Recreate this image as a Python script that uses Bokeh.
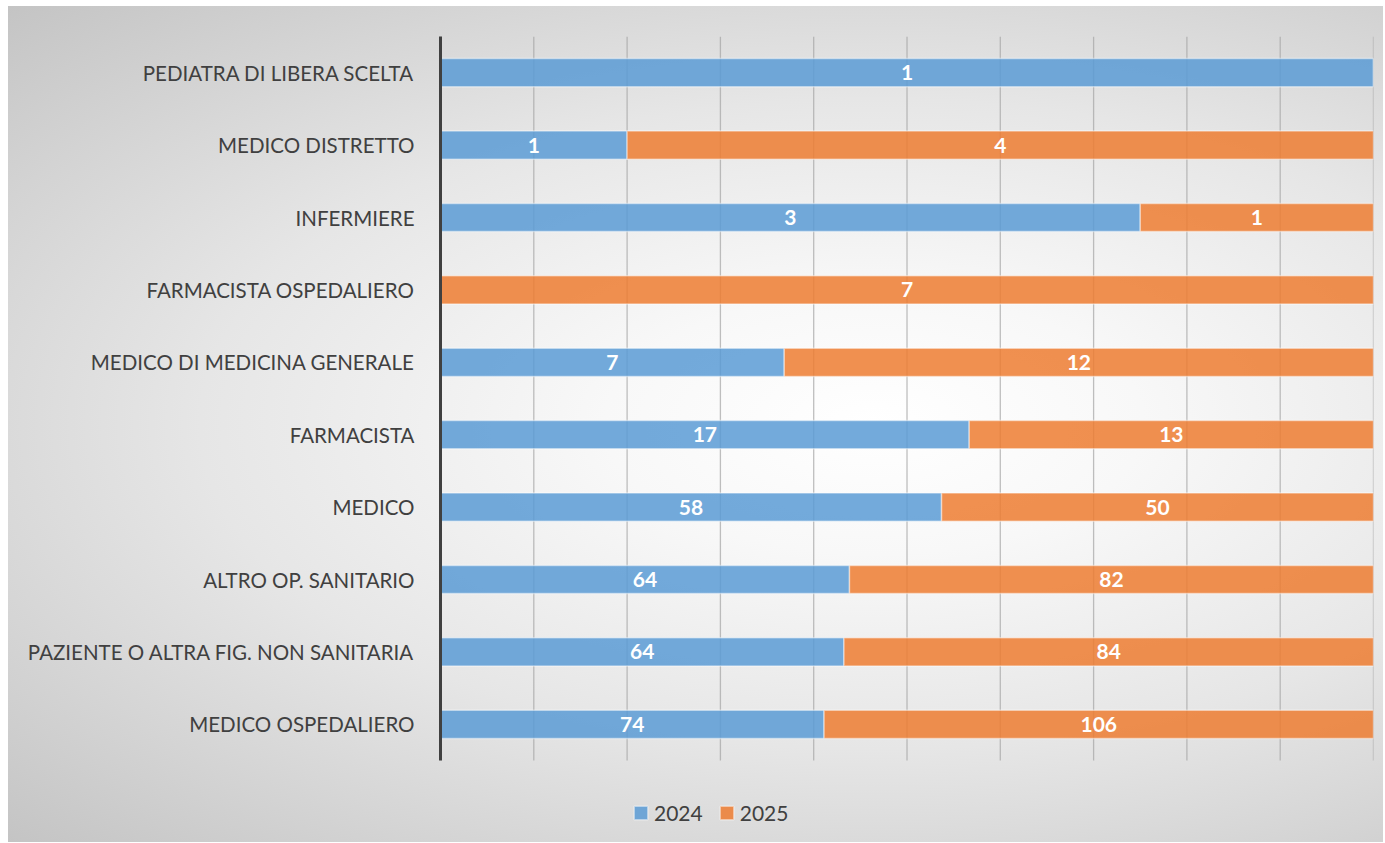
from bokeh.plotting import figure
from bokeh.models import (ColumnDataSource, FixedTicker, Legend, LegendItem, Range1d)
from bokeh.core.properties import value
from bokeh.embed import file_html
from bokeh.resources import INLINE

categories = ["PEDIATRA DI LIBERA SCELTA", "MEDICO DISTRETTO", "INFERMIERE",
              "FARMACISTA OSPEDALIERO", "MEDICO DI MEDICINA GENERALE", "FARMACISTA",
              "MEDICO", "ALTRO OP. SANITARIO", "PAZIENTE O ALTRA FIG. NON SANITARIA",
              "MEDICO OSPEDALIERO"]
v2024 = [1, 1, 3, 0, 7, 17, 58, 64, 64, 74]
v2025 = [0, 4, 1, 7, 12, 13, 50, 82, 84, 106]
series = ["2024", "2025"]
x_ticks = [0, 10, 20, 30, 40, 50, 60, 70, 80, 90, 100]

BLUE = "#5b9bd5"
ORANGE = "#ed7d31"
FONT = "Lato"

n = len(categories)
ypos = [n - 1 - i for i in range(n)]          # first category on top
tot = [a + b for a, b in zip(v2024, v2025)]
p24 = [a / t * 100 for a, t in zip(v2024, tot)]

src = ColumnDataSource(dict(y=ypos, a=v2024, b=v2025, p24=p24,
                            zero=[0] * n, full=[100] * n))

lab = dict(x=[], y=[], t=[])
for yy, a, b, pa in zip(ypos, v2024, v2025, p24):
    if a > 0:
        lab["x"].append(pa / 2); lab["y"].append(yy); lab["t"].append(str(a))
    if b > 0:
        lab["x"].append((pa + 100) / 2); lab["y"].append(yy); lab["t"].append(str(b))
lab_src = ColumnDataSource(lab)

CAT_PX = 724 / n          # pixel height of one category band
LEGEND_PX = 82            # space under the bars for the legend
y_lo, y_hi = -0.5, n - 0.5

p = figure(frame_width=933, frame_height=724 + LEGEND_PX, output_backend="svg",
           toolbar_location=None,
           y_range=Range1d(y_lo - LEGEND_PX / CAT_PX, y_hi),
           x_range=Range1d(0, 100), x_axis_type=None,
           min_border_left=432, min_border_right=10, min_border_top=30,
           min_border_bottom=0)
p.styles = {"background": "radial-gradient(ellipse farthest-corner at 63% 50%, #ffffff 0%, #f8f8f8 22%, #e6e6e6 55%, #c4c4c4 100%)",
            "margin-left": "8px", "margin-top": "6px"}
p.border_fill_alpha = 0
p.background_fill_alpha = 0
p.outline_line_color = None
p.grid.visible = False

# vertical gridlines at every 10 %
gsrc = ColumnDataSource(dict(x=x_ticks, y0=[y_lo] * len(x_ticks), y1=[y_hi] * len(x_ticks)))
p.segment(x0="x", y0="y0", x1="x", y1="y1", source=gsrc, line_color="#a4a4a4",
          line_alpha=0.7, line_width=1.3, level="underlay")

r1 = p.hbar(y="y", left="zero", right="p24", height=0.39, source=src,
            fill_color=BLUE, fill_alpha=0.85, line_color="white", line_alpha=0.45, line_width=1.5)
r2 = p.hbar(y="y", left="p24", right="full", height=0.39, source=src,
            fill_color=ORANGE, fill_alpha=0.85, line_color="white", line_alpha=0.45, line_width=1.5)

p.text(x="x", y="y", text="t", source=lab_src, text_color="white",
       text_font=value(FONT), text_font_style="bold", text_font_size="21px",
       text_align="center", text_baseline="middle")

ax = p.yaxis[0]
ax.ticker = FixedTicker(ticks=ypos)
ax.major_label_overrides = {yy: c for yy, c in zip(ypos, categories)}
ax.bounds = (y_lo, y_hi)
ax.axis_line_color = "#404040"
ax.axis_line_width = 3
ax.major_tick_line_color = None
ax.minor_tick_line_color = None
ax.major_label_text_font = FONT
ax.major_label_text_font_size = "20.5px"
ax.major_label_text_color = "#404040"
ax.major_label_standoff = 20

legend = Legend(items=[LegendItem(label=series[0], renderers=[r1]),
                       LegendItem(label=series[1], renderers=[r2])],
                orientation="horizontal", location=(184, 9),
                label_text_font=FONT, label_text_font_size="21px",
                label_text_color="#404040", glyph_width=17, glyph_height=17,
                spacing=15, label_standoff=5, padding=8, margin=0,
                border_line_alpha=0, background_fill_alpha=0)
p.add_layout(legend, "center")

open("out.html", "w").write(file_html(p, INLINE))
